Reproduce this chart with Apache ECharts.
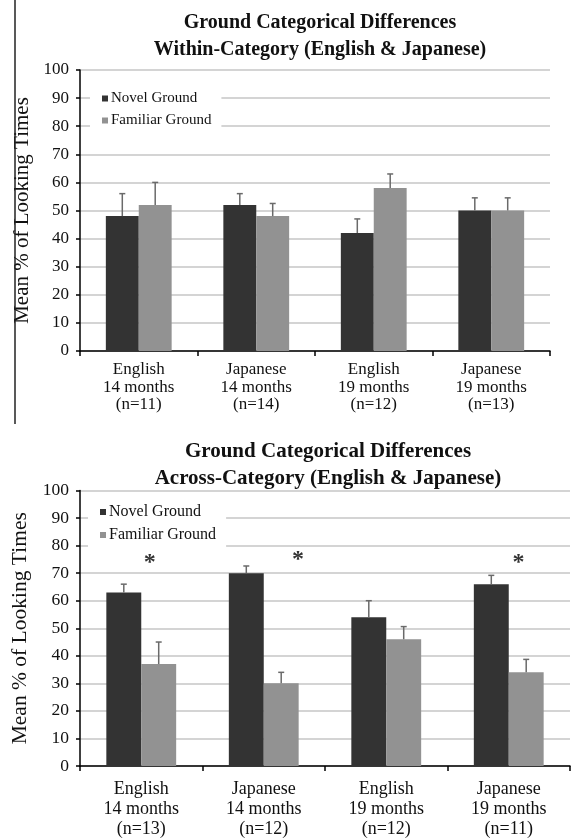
<!DOCTYPE html>
<html>
<head>
<meta charset="utf-8">
<script src="https://cdn.jsdelivr.net/npm/echarts@6/dist/echarts.min.js"></script>
<style>
  html, body { margin: 0; padding: 0; background: #fff; }
  #chart { width: 572px; height: 839px; }
</style>
</head>
<body>
<div id="chart"></div>
<script>
// Groups shown on the category axis
const languages = ['English', 'Japanese', 'English', 'Japanese'];
const ages = ['14 months', '14 months', '19 months', '19 months'];
const nWithin = ['(n=11)', '(n=14)', '(n=12)', '(n=13)'];
const nAcross = ['(n=13)', '(n=12)', '(n=12)', '(n=11)'];
const seriesNames = ['Novel Ground', 'Familiar Ground'];

// Within-category condition: mean % looking time and upper error
const withinNovel = [48, 52, 42, 50];
const withinNovelErr = [8, 4, 5, 4.5];
const withinFamiliar = [52, 48, 58, 50];
const withinFamiliarErr = [8, 4.5, 5, 4.5];

// Across-category condition
const acrossNovel = [63, 70, 54, 66];
const acrossNovelErr = [3, 2.6, 6, 3.2];
const acrossFamiliar = [37, 30, 46, 34];
const acrossFamiliarErr = [8, 4, 4.6, 4.7];

// Significance markers (position along the group axis, height in %)
const starPos = [0.57, 1.78, 3.58];
const starValue = [76, 77, 76];

const titles = [
  'Ground Categorical Differences\nWithin-Category (English & Japanese)',
  'Ground Categorical Differences\nAcross-Category (English & Japanese)'
];
const yName = 'Mean % of Looking Times';

const SERIF = 'Liberation Serif';
const INK = '#111';
const NOVEL = '#333333';
const FAMILIAR = '#929292';
const ERR = '#6a6a6a';

function catLabels(nList) {
  return languages.map((l, i) => l + '\n' + ages[i] + '\n' + nList[i]);
}

function errorBars(values, errs, side, axisIdx, gapRatio) {
  return {
    type: 'custom',
    xAxisIndex: axisIdx,
    yAxisIndex: axisIdx,
    z: 3,
    silent: true,
    data: values.map((v, i) => [i, v, v + errs[i]]),
    renderItem(params, api) {
      const cat = api.value(0);
      const base = api.coord([cat, api.value(1)]);
      const top = api.coord([cat, api.value(2)]);
      const bandW = api.size([1, 0])[0];
      const barW = bandW * (1 - gapRatio) / 2;
      const x = base[0] + side * barW / 2;
      const cap = 3;
      const style = { stroke: ERR, lineWidth: 1.5 };
      return {
        type: 'group',
        children: [
          { type: 'line', shape: { x1: x, y1: base[1], x2: x, y2: top[1] }, style },
          { type: 'line', shape: { x1: x - cap, y1: top[1], x2: x + cap, y2: top[1] }, style }
        ]
      };
    }
  };
}

function xAxisFor(idx, nList, fontSize, lineHeight, margin) {
  return {
    type: 'category',
    gridIndex: idx,
    data: catLabels(nList),
    axisLine: { lineStyle: { color: '#000', width: 1.5 } },
    axisTick: { show: true, length: 5, lineStyle: { color: '#000', width: 1.5 } },
    axisLabel: {
      interval: 0, fontFamily: SERIF, fontSize, lineHeight, color: INK, margin
    }
  };
}

function yAxisFor(idx, fontSize, nameSize, nameGap) {
  return {
    type: 'value',
    gridIndex: idx,
    min: 0, max: 100, interval: 10,
    name: yName,
    nameLocation: 'middle',
    nameGap,
    nameTextStyle: { fontFamily: SERIF, fontSize: nameSize, color: INK },
    axisLine: { show: true, lineStyle: { color: '#000', width: 1.5 } },
    axisTick: { show: true, length: 4, lineStyle: { color: '#000', width: 1.5 } },
    axisLabel: { fontFamily: SERIF, fontSize, color: INK, margin: 11 },
    splitLine: { lineStyle: { color: '#c6c6c6', width: 1.5 } }
  };
}

function legendFor(left, top, fontSize, gap) {
  return {
    orient: 'vertical',
    left, top,
    data: seriesNames,
    icon: 'rect',
    itemWidth: 6, itemHeight: 6,
    itemGap: gap,
    backgroundColor: '#fff',
    padding: [5, 10, 5, 12],
    selectedMode: false,
    textStyle: { fontFamily: SERIF, fontSize, color: INK, padding: [0, 0, 0, -2] }
  };
}

const GAP_TOP = 0.44;
const GAP_BOTTOM = 0.43;

const option = {
  animation: false,
  backgroundColor: '#fff',
  title: [
    { text: titles[0], left: 315, top: 4, textAlign: 'center',
      textStyle: { fontFamily: SERIF, fontSize: 20, fontWeight: 'bold', lineHeight: 27, color: INK } },
    { text: titles[1], left: 323, top: 433, textAlign: 'center',
      textStyle: { fontFamily: SERIF, fontSize: 21, fontWeight: 'bold', lineHeight: 27, color: INK } }
  ],
  legend: [
    legendFor(90, 86, 15, 7),
    legendFor(88, 499, 16, 7)
  ],
  grid: [
    { left: 80, top: 70, width: 470, height: 281 },
    { left: 80, top: 490.5, width: 490, height: 276.5 }
  ],
  xAxis: [
    xAxisFor(0, nWithin, 17, 17.5, 10),
    xAxisFor(1, nAcross, 18, 20, 13),
    { type: 'value', gridIndex: 1, min: 0, max: 4, show: false }
  ],
  yAxis: [
    yAxisFor(0, 17, 21, 46),
    yAxisFor(1, 17.5, 21.5, 44)
  ],
  graphic: [
    { type: 'line', shape: { x1: 15, y1: 0, x2: 15, y2: 424 },
      style: { stroke: '#222', lineWidth: 1.5 }, z: 10 }
  ],
  series: [
    { name: seriesNames[0], type: 'bar', xAxisIndex: 0, yAxisIndex: 0, data: withinNovel,
      itemStyle: { color: NOVEL }, barGap: '0%', barCategoryGap: (GAP_TOP * 100) + '%' },
    { name: seriesNames[1], type: 'bar', xAxisIndex: 0, yAxisIndex: 0, data: withinFamiliar,
      itemStyle: { color: FAMILIAR }, barGap: '0%', barCategoryGap: (GAP_TOP * 100) + '%' },
    errorBars(withinNovel, withinNovelErr, -1, 0, GAP_TOP),
    errorBars(withinFamiliar, withinFamiliarErr, 1, 0, GAP_TOP),

    { name: seriesNames[0], type: 'bar', xAxisIndex: 1, yAxisIndex: 1, data: acrossNovel,
      itemStyle: { color: NOVEL }, barGap: '0%', barCategoryGap: (GAP_BOTTOM * 100) + '%' },
    { name: seriesNames[1], type: 'bar', xAxisIndex: 1, yAxisIndex: 1, data: acrossFamiliar,
      itemStyle: { color: FAMILIAR }, barGap: '0%', barCategoryGap: (GAP_BOTTOM * 100) + '%' },
    errorBars(acrossNovel, acrossNovelErr, -1, 1, GAP_BOTTOM),
    errorBars(acrossFamiliar, acrossFamiliarErr, 1, 1, GAP_BOTTOM),

    { type: 'scatter', xAxisIndex: 2, yAxisIndex: 1, symbolSize: 0, silent: true,
      data: starPos.map((x, i) => [x, starValue[i]]),
      label: { show: true, formatter: '*', position: 'inside', offset: [0, 6],
               fontFamily: SERIF, fontSize: 24, fontWeight: 'bold', color: '#000' } }
  ]
};

// custom error bars need an axis index per grid; map yAxisIndex to the same grid
option.series.forEach(s => { if (s.type === 'custom') s.yAxisIndex = s.xAxisIndex; });

echarts.init(document.getElementById('chart')).setOption(option);
</script>
</body>
</html>
